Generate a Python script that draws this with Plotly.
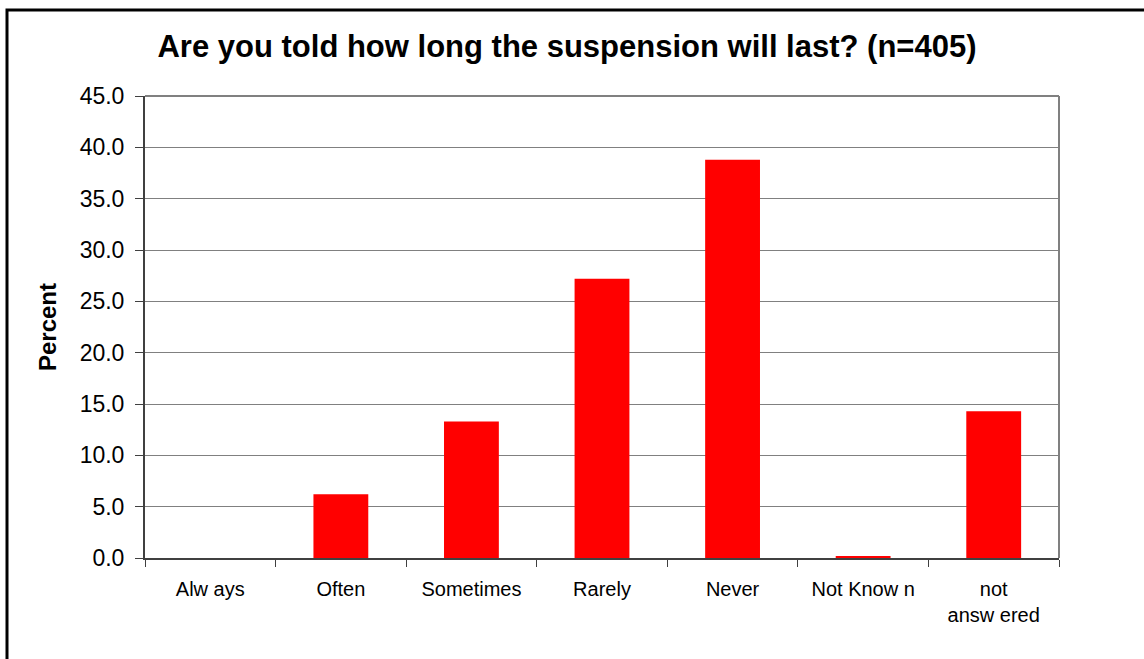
import plotly.graph_objects as go

# Survey responses, percent of respondents (n=405)
categories = ["Alw ays", "Often", "Sometimes", "Rarely", "Never", "Not Know n", "not<br>answ ered"]
percent = [0.0, 6.2, 13.3, 27.2, 38.8, 0.2, 14.3]
y_ticks = [0, 5, 10, 15, 20, 25, 30, 35, 40, 45]

W, H = 1144, 659
L, R, T, B = 145, 85, 96, 101
pw, ph = W - L - R, H - T - B


def px_x(x):
    return (x - L) / pw


def px_y(y):
    return (H - B - y) / ph


fig = go.Figure(
    go.Bar(
        x=categories,
        y=percent,
        marker=dict(color="#ff0000", line=dict(width=0)),
        width=0.42,
    )
)

fig.update_layout(
    width=W,
    height=H,
    margin=dict(l=L, r=R, t=T, b=B),
    paper_bgcolor="white",
    plot_bgcolor="white",
    showlegend=False,
    font=dict(family="Liberation Sans, Arial, sans-serif", color="black"),
    title=dict(
        text="<b>Are you told how long the suspension will last? (n=405)</b>",
        x=px_x(567),
        xref="paper",
        xanchor="center",
        y=1 - 46 / H,
        yanchor="middle",
        font=dict(size=31, color="black"),
    ),
    xaxis=dict(
        type="category",
        tickson="boundaries",
        ticks="outside",
        ticklen=7,
        tickcolor="#404040",
        tickwidth=1,
        showline=True,
        linecolor="#404040",
        linewidth=2,
        showgrid=False,
        ticklabelstandoff=12,
        tickfont=dict(size=20, color="black"),
    ),
    yaxis=dict(
        range=[0, 45],
        tickvals=y_ticks,
        tickformat=".1f",
        ticks="outside",
        ticklen=8,
        tickcolor="#404040",
        showline=True,
        linecolor="#404040",
        linewidth=2,
        showgrid=True,
        gridcolor="#808080",
        gridwidth=1,
        zeroline=False,
        ticklabelstandoff=6,
        tickfont=dict(size=23, color="black"),
        title=dict(text="<b>Percent</b>", font=dict(size=24, color="black"), standoff=16),
    ),
    shapes=[
        # plot-area frame: top and right edges
        dict(type="line", xref="paper", yref="paper", x0=0, x1=1, y0=1, y1=1,
             line=dict(color="#808080", width=2)),
        dict(type="line", xref="paper", yref="paper", x0=1, x1=1, y0=0, y1=1,
             line=dict(color="#808080", width=2)),
        # outer chart border
        dict(type="rect", xref="paper", yref="paper",
             x0=px_x(7), x1=px_x(1150), y0=px_y(670), y1=px_y(10),
             line=dict(color="black", width=3), fillcolor="rgba(0,0,0,0)", layer="below"),
    ],
)

fig.write_html("out.html")
